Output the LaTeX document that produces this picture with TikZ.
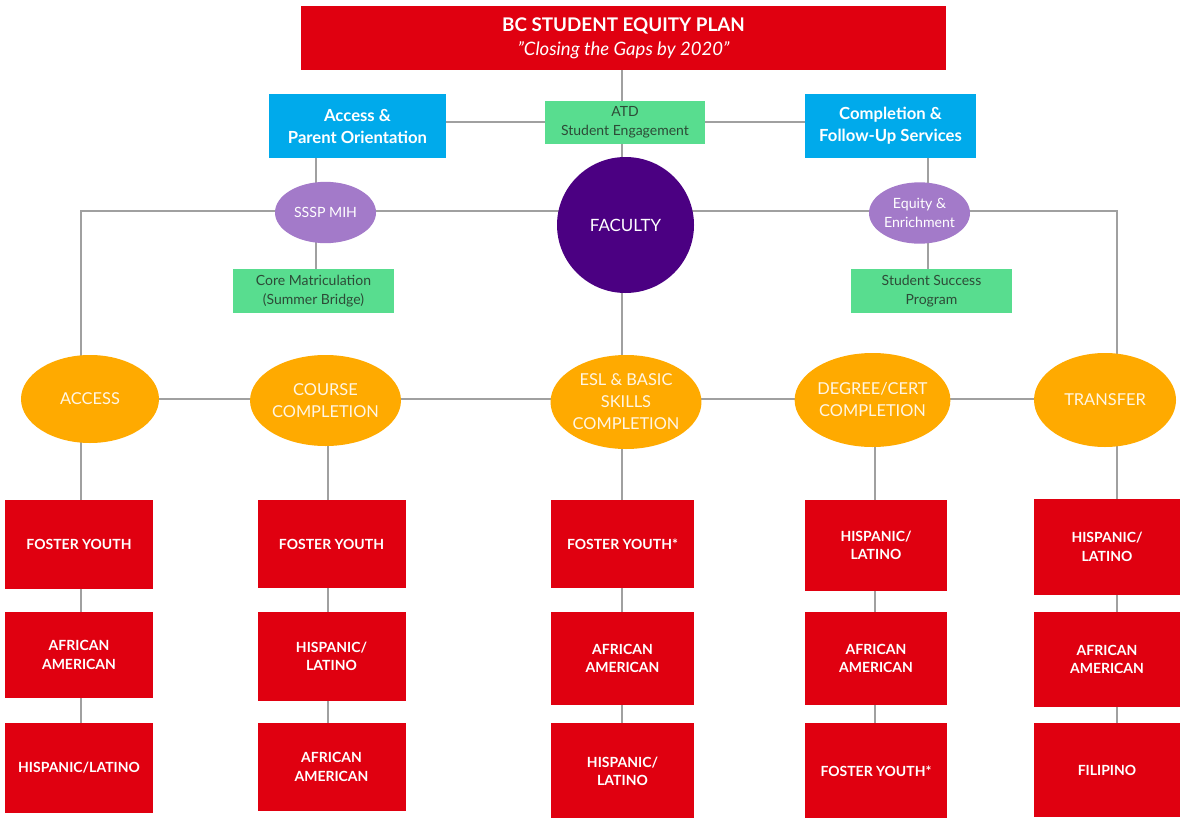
\documentclass[tikz,border=0pt]{standalone}
\usepackage{fontspec}
\setmainfont{Lato}
\usetikzlibrary{shapes.geometric,backgrounds}
\definecolor{bcred}{RGB}{224,0,16}
\definecolor{bcblue}{RGB}{0,170,235}
\definecolor{bcgreen}{RGB}{88,221,143}
\definecolor{bcgtext}{RGB}{45,75,55}
\definecolor{bclav}{RGB}{163,122,201}
\definecolor{bcpurple}{RGB}{75,0,130}
\definecolor{bcorange}{RGB}{255,170,0}
\definecolor{bcline}{RGB}{160,160,160}
\definecolor{bccream}{RGB}{255,246,228}
\begin{document}
\begin{tikzpicture}[x=0.75pt,y=-0.75pt,
 every node/.style={inner sep=0pt, align=center},
 titlebox/.style={fill=bcred, text=white, minimum width=483.75pt, minimum height=48pt, font=\fontsize{14.1}{18}\selectfont},
 bluebox/.style={fill=bcblue, text=white, font=\fontsize{12.5}{16.5}\selectfont\bfseries, minimum height=48pt},
 greenbox/.style={fill=bcgreen, text=bcgtext, font=\fontsize{10.5}{14.25}\selectfont, minimum width=120.75pt, minimum height=33pt},
 lavell/.style={ellipse, fill=bclav, text=white, font=\fontsize{10.6}{14.25}\selectfont, minimum width=75.75pt, minimum height=46pt},
 facell/.style={ellipse, fill=bcpurple, text=white, font=\fontsize{12.7}{14}\selectfont, minimum width=102.75pt, minimum height=102pt},
 orell/.style={ellipse, fill=bcorange, text=bccream, font=\fontsize{12.3}{16.5}\selectfont},
 redbox/.style={fill=bcred, text=white, font=\fontsize{10.5}{13.9}\selectfont\bfseries},
 conn/.style={draw=bcline, line width=1.5pt}
]
\useasboundingbox (0,0) rectangle (1180,817);

% top
\node[titlebox] (title) at (623.5,38) {{\bfseries BC STUDENT EQUITY PLAN}\\{\fontsize{13.9}{18}\selectfont\itshape \char34 Closing the Gaps by 2020\char34}};
\node[bluebox, minimum width=132.75pt] (access) at (357.5,126) {Access \&\\Parent Orientation};
\node[bluebox, minimum width=128.25pt] (compl) at (890.5,126) {Completion \&\\Follow-Up Services};
\node[greenbox, minimum width=120pt, minimum height=32.25pt] (atd) at (625,122) {ATD\\Student Engagement};
\node[facell] (faculty) at (625.5,225) {FACULTY};
\node[lavell] (sssp) at (325.5,212.5) {SSSP MIH};
\node[lavell] (equity) at (919.5,213) {Equity \&\\Enrichment};
\node[greenbox] (core) at (313.5,291) {Core Matriculation\\(Summer Bridge)};
\node[greenbox] (ssp) at (931.5,291) {Student Success\\Program};

% goals
\node[orell, minimum width=103.5pt, minimum height=66pt] (oacc) at (90,399) {ACCESS};
\node[orell, minimum width=111.75pt, minimum height=68.25pt] (ocrs) at (325.5,400.5) {COURSE\\COMPLETION};
\node[orell, minimum width=112.5pt, minimum height=70.5pt] (oesl) at (626,402) {ESL \& BASIC\\SKILLS\\COMPLETION};
\node[orell, minimum width=111.75pt, minimum height=70.5pt] (odeg) at (872.5,400) {DEGREE/CERT\\COMPLETION};
\node[orell, minimum width=106.5pt, minimum height=70.5pt] (otr) at (1105,400) {TRANSFER};

% groups
\node[redbox, minimum width=111pt, minimum height=66.75pt] (a1) at (79,544.5) {FOSTER YOUTH};
\node[redbox, minimum width=111pt, minimum height=64.5pt] (a2) at (79,655) {AFRICAN\\AMERICAN};
\node[redbox, minimum width=111pt, minimum height=67.5pt] (a3) at (79,768) {HISPANIC/LATINO};

\node[redbox, minimum width=111pt, minimum height=66pt] (b1) at (331.5,544) {FOSTER YOUTH};
\node[redbox, minimum width=111pt, minimum height=66.75pt] (b2) at (331.5,656.5) {HISPANIC/\\LATINO};
\node[redbox, minimum width=111pt, minimum height=66pt] (b3) at (331.5,767) {AFRICAN\\AMERICAN};

\node[redbox, minimum width=107.25pt, minimum height=66pt] (c1) at (622.5,544) {FOSTER YOUTH*};
\node[redbox, minimum width=107.25pt, minimum height=69.75pt] (c2) at (622.5,658.5) {AFRICAN\\AMERICAN};
\node[redbox, minimum width=107.25pt, minimum height=72.75pt] (c3) at (622.5,771.5) {HISPANIC/\\LATINO};

\node[redbox, minimum width=106.5pt, minimum height=68.25pt] (d1) at (876,545.5) {HISPANIC/\\LATINO};
\node[redbox, minimum width=106.5pt, minimum height=69.75pt] (d2) at (876,658.5) {AFRICAN\\AMERICAN};
\node[redbox, minimum width=106.5pt, minimum height=72pt] (d3) at (876,771) {FOSTER YOUTH*};

\node[redbox, minimum width=109.5pt, minimum height=72pt] (e1) at (1107,547) {HISPANIC/\\LATINO};
\node[redbox, minimum width=109.5pt, minimum height=71.25pt] (e2) at (1107,659.5) {AFRICAN\\AMERICAN};
\node[redbox, minimum width=109.5pt, minimum height=70.5pt] (e3) at (1107,770) {FILIPINO};

% connector guide coordinates
\coordinate (hl1) at (81,211);
\coordinate (hl5) at (1116.5,211);
\coordinate (vA) at (316,0);
\coordinate (vC) at (928,0);
\coordinate (vM) at (622,0);
\coordinate (x1) at (81,0);
\coordinate (x2) at (328,0);
\coordinate (x4) at (875,0);
\coordinate (x5) at (1116.5,0);

\begin{scope}[on background layer]
\draw[conn] (vM |- title.center) -- (vM |- c3.center);
\draw[conn] (access.center |- atd.center) -- (compl.center |- atd.center);
\draw[conn] (vA |- access.center) -- (vA |- core.center);
\draw[conn] (vC |- compl.center) -- (vC |- ssp.center);
\draw[conn] (x1 |- oacc.center) -- (hl1) -- (hl5) -- (x5 |- otr.center);
\draw[conn] (oacc.center) -- (oacc.center -| otr.center);
\draw[conn] (x1 |- oacc.center) -- (x1 |- a3.center);
\draw[conn] (x2 |- ocrs.center) -- (x2 |- b3.center);
\draw[conn] (x4 |- odeg.center) -- (x4 |- d3.center);
\draw[conn] (x5 |- otr.center) -- (x5 |- e3.center);
\end{scope}
\end{tikzpicture}
\end{document}
